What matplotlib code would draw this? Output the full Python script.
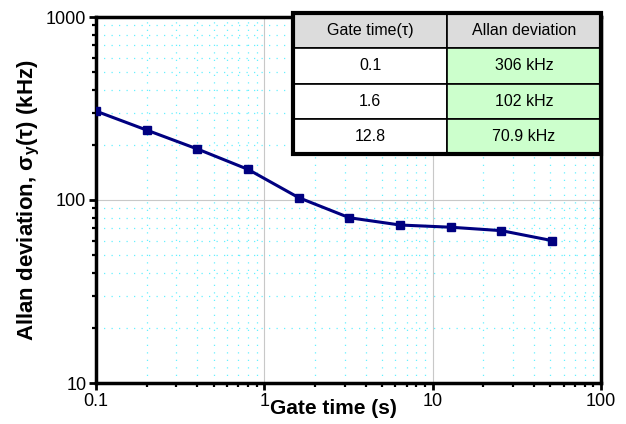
import numpy as np
import matplotlib
matplotlib.use("Agg")
import matplotlib.pyplot as plt
from matplotlib.ticker import LogLocator, NullFormatter

plt.rcParams['font.family'] = ['Liberation Sans', 'DejaVu Sans']

# data
gate_time = [0.1, 0.2, 0.4, 0.8, 1.6, 3.2, 6.4, 12.8, 25.6, 51.2]
allan_dev = [306, 241, 190, 147, 103, 80, 73, 71, 68, 60]

table_header = ['Gate time(\u03c4)', 'Allan deviation']
table_tau = ['0.1', '1.6', '12.8']
table_dev = ['306 kHz', '102 kHz', '70.9 kHz']

fig = plt.figure(figsize=(6.26, 4.24), dpi=100)
ax = fig.add_axes([96/626, 1 - 383/424, (601-96)/626, (383-17)/424])

ax.set_xscale('log')
ax.set_yscale('log')
ax.set_xlim(0.1, 100)
ax.set_ylim(10, 1000)

# grid: light gray at decades, cyan dotted at minors
ax.xaxis.set_minor_locator(LogLocator(base=10, subs=np.arange(2, 10)))
ax.yaxis.set_minor_locator(LogLocator(base=10, subs=np.arange(2, 10)))
ax.xaxis.set_minor_formatter(NullFormatter())
ax.yaxis.set_minor_formatter(NullFormatter())
ax.grid(True, which='major', color='#c8c8c8', lw=0.8)
ax.grid(True, which='minor', color='#66f0ff', lw=0.9, linestyle=(0, (1, 5)))

ax.plot(gate_time, allan_dev, color='#000080', lw=2.2, marker='s', ms=5.5, zorder=5)

ax.set_xticks([0.1, 1, 10, 100])
ax.set_xticklabels(['0.1', '1', '10', '100'])
ax.set_yticks([10, 100, 1000])
ax.set_yticklabels(['10', '100', '1000'])
ax.tick_params(which='major', direction='out', length=5, width=2, labelsize=13, pad=2)
ax.tick_params(which='minor', direction='out', length=3, width=1.6)
for s in ax.spines.values():
    s.set_linewidth(2.5)

ax.set_ylabel('Allan deviation, $\\mathregular{\\sigma_y(\\tau)}$ (kHz)', fontsize=16,
              fontweight='bold', labelpad=3)
fig.text(333/626, 1 - 409/424, 'Gate time (s)', fontsize=15, fontweight='bold',
         ha='center', va='center')

# table in the top right corner
tx, ty = (293-96)/505, 1 - (154-17)/366
tw, th = (601-293)/505, (154-13)/366
tab = ax.table(cellText=[[a, b] for a, b in zip(table_tau, table_dev)],
               colLabels=table_header, cellLoc='center', bbox=[tx, ty, tw, th])
tab.auto_set_font_size(False)
tab.set_fontsize(11.5)
for (r, c), cell in tab.get_celld().items():
    cell.set_linewidth(1.2)
    if r == 0:
        cell.set_facecolor('#dcdcdc')
    elif c == 1:
        cell.set_facecolor('#ccffcc')
    else:
        cell.set_facecolor('white')
tab.set_zorder(10)
ax.add_patch(plt.Rectangle((tx, ty), tw, th, transform=ax.transAxes, fill=False,
                           lw=3, ec='black', zorder=11, clip_on=False))

fig.savefig('out.png', dpi=100)
